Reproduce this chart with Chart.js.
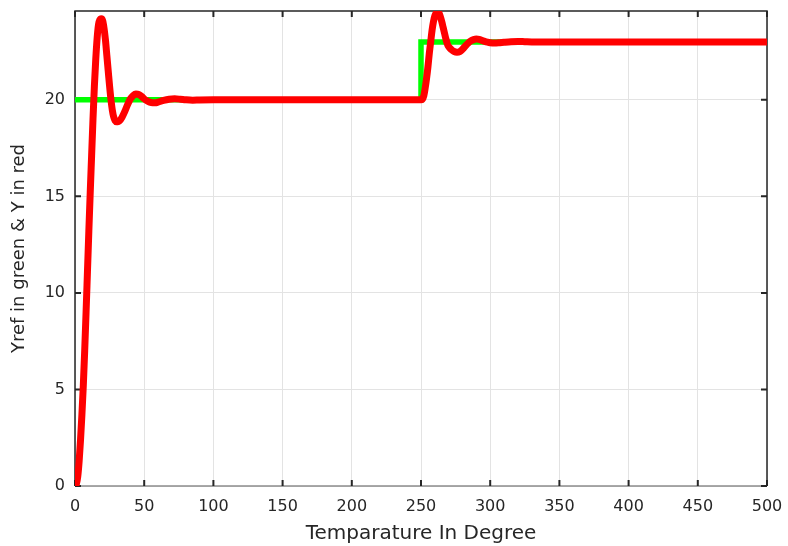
<!DOCTYPE html>
<html>
<head>
<meta charset="utf-8">
<script src="https://cdn.jsdelivr.net/npm/chart.js@4/dist/chart.umd.min.js"></script>
<style>
  body { margin: 0; background: #fff; }
  canvas { display: block; }
</style>
</head>
<body>
<canvas id="plot" width="788" height="546"></canvas>
<script>
// Reference (green): step from 20 to 23 at t = 250
const refX = [0, 250, 250, 500];
const refY = [20, 20, 23, 23];

// Output (red)
const outX = [0, 1, 2, 3, 4, 5, 6, 7, 8, 9, 10, 11, 12, 13, 14, 15, 16, 17, 18, 19,
  20, 21, 22, 23, 24, 25, 26, 27, 28, 29, 30, 31, 32, 34, 36, 38, 40, 42, 44,
  46, 48, 50, 52, 54, 56, 58, 60, 64, 68, 72, 76, 80, 85, 90, 100, 150, 200, 250,
  251, 252, 253, 254, 255, 256, 257, 258, 259, 260, 261, 262, 263, 264, 265, 266,
  267, 268, 269, 270, 272, 274, 276, 278, 280, 282, 284, 286, 288, 290, 292, 294,
  296, 298, 300, 303, 306, 310, 315, 320, 325, 330, 400, 500];
const outY = [0, 0.1, 0.5, 1.3, 2.4, 3.7, 5.2, 7.0, 9.0, 11.1, 13.2, 15.2, 17.1, 19.0,
  20.7, 22.1, 23.2, 23.9, 24.15, 24.2, 24.1, 23.7, 23.1, 22.3, 21.5, 20.7, 20.0,
  19.45, 19.1, 18.92, 18.86, 18.86, 18.9, 19.1, 19.4, 19.75, 20.05, 20.22, 20.3,
  20.28, 20.18, 20.05, 19.95, 19.88, 19.85, 19.85, 19.88, 19.97, 20.03, 20.05,
  20.03, 20.0, 19.98, 19.99, 20, 20, 20, 20,
  20.02, 20.2, 20.6, 21.1, 21.7, 22.4, 23.0, 23.6, 24.05, 24.35, 24.5, 24.55, 24.5,
  24.3, 24.05, 23.75, 23.45, 23.15, 22.9, 22.75, 22.6, 22.5, 22.47, 22.5, 22.62,
  22.78, 22.93, 23.05, 23.12, 23.15, 23.13, 23.08, 23.03, 22.99, 22.96, 22.94, 22.95,
  22.98, 23.01, 23.02, 23.01, 23.0, 23.0, 23.0];

const xTicks = [0, 50, 100, 150, 200, 250, 300, 350, 400, 450, 500];
const yTicks = [0, 5, 10, 15, 20];

const axisColor = "#262626";
const fontFamily = "'DejaVu Sans', sans-serif";

// MATLAB-like box with inward ticks on all four sides
const boxPlugin = {
  id: "box",
  beforeDatasetsDraw(chart) {
    const { ctx, chartArea: a, scales } = chart;
    const len = 6;
    ctx.save();
    ctx.strokeStyle = axisColor;
    ctx.lineWidth = 1.5;
    ctx.beginPath();
    ctx.moveTo(a.left, a.bottom);
    ctx.lineTo(a.left, a.top);
    ctx.lineTo(a.right, a.top);
    ctx.lineTo(a.right, a.bottom);
    ctx.stroke();
    ctx.strokeStyle = "#8c8c8c";
    ctx.beginPath();
    ctx.moveTo(a.left, a.bottom);
    ctx.lineTo(a.right, a.bottom);
    ctx.stroke();
    ctx.strokeStyle = axisColor;
    ctx.lineWidth = 2;
    ctx.beginPath();
    xTicks.forEach(v => {
      const px = scales.x.getPixelForValue(v);
      ctx.moveTo(px, a.bottom); ctx.lineTo(px, a.bottom - len);
      ctx.moveTo(px, a.top); ctx.lineTo(px, a.top + len);
    });
    yTicks.forEach(v => {
      const py = scales.y.getPixelForValue(v);
      ctx.moveTo(a.left, py); ctx.lineTo(a.left + len, py);
      ctx.moveTo(a.right, py); ctx.lineTo(a.right - len, py);
    });
    ctx.stroke();
    ctx.restore();
  }
};

new Chart(document.getElementById("plot").getContext("2d"), {
  type: "line",
  data: {
    datasets: [
      // first dataset is drawn last, so red sits on top of green
      {
        label: "Y",
        data: outX.map((v, i) => ({ x: v, y: outY[i] })),
        borderColor: "#ff0000",
        borderWidth: 7,
        pointRadius: 0,
        cubicInterpolationMode: "monotone"
      },
      {
        label: "Yref",
        data: refX.map((v, i) => ({ x: v, y: refY[i] })),
        borderColor: "#00ff00",
        borderWidth: 5.5,
        pointRadius: 0,
        tension: 0
      }
    ]
  },
  plugins: [boxPlugin],
  options: {
    responsive: false,
    animation: false,
    layout: { padding: { top: 11, right: 21, left: 0, bottom: 0 } },
    plugins: { legend: { display: false }, tooltip: { enabled: false } },
    scales: {
      x: {
        type: "linear",
        min: 0, max: 500,
        afterFit: s => { s.height = 60; s.paddingLeft = 0; s.paddingRight = 0; },
        afterBuildTicks: s => { s.ticks = xTicks.map(v => ({ value: v })); },
        grid: { color: "#e3e3e3", lineWidth: 1, drawTicks: false },
        border: { display: false },
        ticks: { color: axisColor, padding: 11, font: { family: fontFamily, size: 16 }, maxRotation: 0 },
        title: { display: true, text: "Temparature In Degree", color: axisColor,
                 font: { family: fontFamily, size: 20 }, padding: { top: 0, bottom: 0 } }
      },
      y: {
        min: 0, max: 24.6,
        afterFit: s => { s.width = 75; s.paddingTop = 0; s.paddingBottom = 0; },
        afterBuildTicks: s => { s.ticks = yTicks.map(v => ({ value: v })); },
        grid: { color: "#e3e3e3", lineWidth: 1, drawTicks: false },
        border: { display: false },
        ticks: { color: axisColor, padding: 10, font: { family: fontFamily, size: 16 } },
        title: { display: true, text: "Yref in green & Y in red", color: axisColor,
                 font: { family: fontFamily, size: 18 }, padding: { top: 9, bottom: 0 } }
      }
    }
  }
});
</script>
</body>
</html>
